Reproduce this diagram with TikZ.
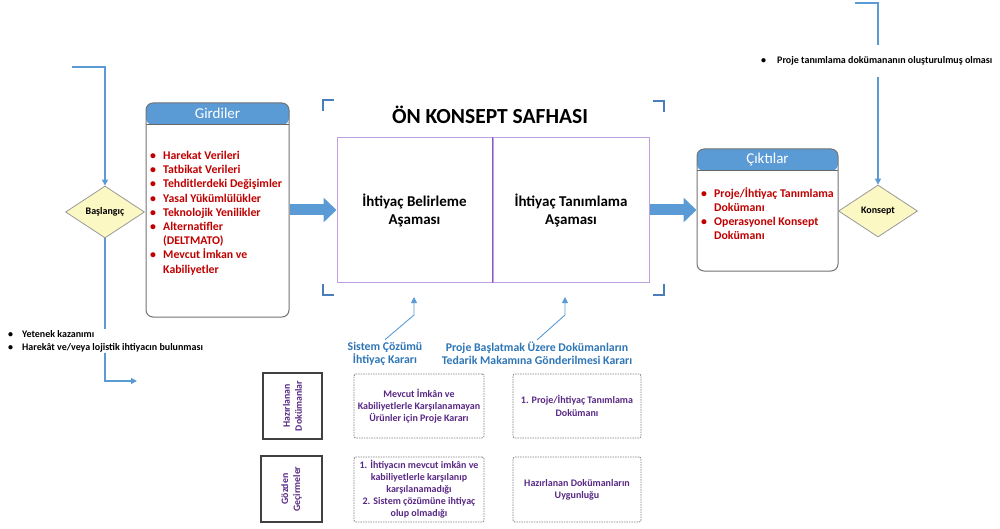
\documentclass[tikz,border=0pt]{standalone}
\usepackage{fontspec}
\setmainfont{Carlito}
\usetikzlibrary{shapes.geometric,arrows.meta,calc}
\definecolor{hb}{RGB}{91,155,213}
\definecolor{brk}{RGB}{74,126,187}
\definecolor{itred}{RGB}{192,0,0}
\definecolor{plight}{RGB}{190,160,225}
\definecolor{pdark}{RGB}{140,90,200}
\definecolor{lblue}{RGB}{46,117,182}
\definecolor{ptxt}{RGB}{88,40,132}
\definecolor{dfill}{RGB}{252,248,196}
\newcommand\itm[1]{\makebox[13pt][l]{\textbullet}#1\\}
\newcommand\cnt[1]{\hspace*{13pt}#1\\}
\begin{document}
\begin{tikzpicture}[x=1pt,y=-1pt,
  conn/.style={draw=hb, line width=1.2pt, -{Triangle[length=6pt,width=6pt]}},
  bigarrow/.style={draw=hb, line width=11pt, -{Triangle[length=13pt,width=24pt]}},
  bracket/.style={draw=brk, line width=2.6pt},
  panel/.style={draw=black!55, line width=1pt, rounded corners=7pt, fill=white,
    path picture={\fill[hb] (path picture bounding box.north west) rectangle ([yshift=-22pt]path picture bounding box.north east);
      \draw[black!60, line width=1pt] ([yshift=-22pt]path picture bounding box.north west) -- ([yshift=-22pt]path picture bounding box.north east);}},
  htxt/.style={text=white, font=\fontsize{15}{18}\selectfont, inner sep=0pt},
  items/.style={align=left, text=itred, inner sep=0pt, font=\fontsize{11.8}{14.2}\selectfont\bfseries},
  dia/.style={shape=diamond, aspect=1.5, draw=black!40, fill=dfill, line width=0.8pt, inner sep=0pt, font=\fontsize{10}{11}\selectfont\bfseries},
  stage/.style={draw=plight, line width=1pt, minimum height=144pt, align=center, font=\fontsize{15}{18}\selectfont\bfseries},
  lbl/.style={text=lblue, align=center, font=\fontsize{11.8}{13}\selectfont\bfseries, inner sep=2pt},
  sidebox/.style={draw=black!75, line width=1.6pt, rotate=90, minimum width=66pt, align=center, text=ptxt, font=\fontsize{9.8}{12}\selectfont\bfseries},
  dbox/.style={draw=black!50, line width=0.8pt, dash pattern=on 1.5pt off 1pt, rounded corners=2pt, align=center, text=ptxt, font=\fontsize{10}{12.3}\selectfont\bfseries},
  note/.style={align=left, fill=white, font=\fontsize{10}{13}\selectfont\bfseries}
]
\useasboundingbox (0,0) rectangle (1000,529);

% Girdiler panel
\node[panel, minimum width=143pt, minimum height=214pt] (gir) at (217.5,210) {};
\node[htxt] (girh) at ($(gir.north)+(0,11)$) {Girdiler};
\node[items, anchor=north west] (giri) at (150,151) {%
\itm{Harekat Verileri}\itm{Tatbikat Verileri}\itm{Tehditlerdeki Değişimler}\itm{Yasal Yükümlülükler}%
\itm{Teknolojik Yenilikler}\itm{Alternatifler}\cnt{(DELTMATO)}\itm{Mevcut İmkan ve}\hspace*{13pt}Kabiliyetler};

% Stages
\node[stage, minimum width=155pt] (s1) at (414.5,210) {İhtiyaç Belirleme\\Aşaması};
\node[stage, minimum width=156pt, anchor=west] (s2) at (s1.east) {İhtiyaç Tanımlama\\Aşaması};
\draw[pdark, line width=1pt] (s1.north east) -- (s1.south east);
\node[font=\fontsize{21.5}{24}\selectfont\bfseries] (title) at (490,115) {ÖN KONSEPT SAFHASI};

% brackets
\draw[bracket] (323,111) -- (323,100) -- (334,100);
\draw[bracket] (653,101) -- (664,101) -- (664,112);
\draw[bracket] (323,284) -- (323,295) -- (334,295);
\draw[bracket] (653,295) -- (664,295) -- (664,284);

% Ciktilar panel
\node[panel, minimum width=141pt, minimum height=122pt] (cik) at (767.5,210) {};
\node[htxt] (cikh) at ($(cik.north)+(0,11)$) {Çıktılar};
\node[items, anchor=north west] (ciki) at (701,187) {%
\itm{Proje/İhtiyaç Tanımlama}\cnt{Dokümanı}\itm{Operasyonel Konsept}\hspace*{13pt}Dokümanı};

% big arrows
\draw[bigarrow] (gir.east) -- (s1.west);
\draw[bigarrow] (s2.east) -- (cik.west);

% diamonds
\node[dia, minimum width=79pt, minimum height=52pt] (bas) at (105,212) {Başlangıç};
\node[dia, minimum width=79pt, minimum height=52pt] (kon) at (878,211) {Konsept};

% connectors left
\coordinate (bt) at (72,67);
\coordinate (bb) at (137,381);
\draw[conn] (bt) -| (bas.north);
\draw[conn] (bas.south) |- (bb);
\node[note, anchor=north west, inner xsep=2pt, inner ysep=1pt] (lnote) at (6,329) {%
\makebox[14pt][l]{\textbullet}Yetenek kazanımı\\\makebox[14pt][l]{\textbullet}Harekât ve/veya lojistik ihtiyacın bulunması};

% connectors right
\coordinate (kt) at (855,3);
\draw[conn] (kt) -| (kon.north);
\node[note, anchor=west, inner xsep=2pt, inner ysep=12pt] (rnote) at (759,61) {%
\makebox[16pt][l]{\textbullet}Proje tanımlama dokümananın oluşturulmuş olması};

% decision labels
\node[lbl] (l1) at (385,353.5) {Sistem Çözümü\\İhtiyaç Kararı};
\node[lbl] (l2) at (537,353.5) {Proje Başlatmak Üzere Dokümanların\\Tedarik Makamına Gönderilmesi Kararı};
\coordinate (a1) at (414,297);
\coordinate (a2) at (565,297);
\draw[draw=hb, line width=0.9pt, -{Triangle[length=6pt,width=6pt]}] (l1.north) -- (414,315) -- (a1);
\draw[draw=hb, line width=0.9pt, -{Triangle[length=6pt,width=6pt]}] (l2.north) -- (565,315) -- (a2);

% bottom table
\node[sidebox, minimum height=59pt] (hd) at (292.5,406) {Hazırlanan\\Dokümanlar};
\node[sidebox, minimum height=61pt] (gg) at (291.5,489) {Gözden\\Geçirmeler};
\node[dbox, minimum width=130pt, minimum height=64pt] (b1) at (419,406) {Mevcut İmkân ve\\Kabiliyetlerle Karşılanamayan\\Ürünler için Proje Kararı};
\node[dbox, minimum width=128pt, minimum height=64pt] (b2) at (577,406) {1. Proje/İhtiyaç Tanımlama\\Dokümanı};
\node[dbox, minimum width=130pt, minimum height=65pt, font=\fontsize{10}{12}\selectfont\bfseries] (b3) at (419,489.5) {1. İhtiyacın mevcut imkân ve\\kabiliyetlerle karşılanıp\\karşılanamadığı\\2. Sistem çözümüne ihtiyaç\\olup olmadığı};
\node[dbox, minimum width=128pt, minimum height=65pt] (b4) at (577,489.5) {Hazırlanan Dokümanların\\Uygunluğu};
\end{tikzpicture}
\end{document}
